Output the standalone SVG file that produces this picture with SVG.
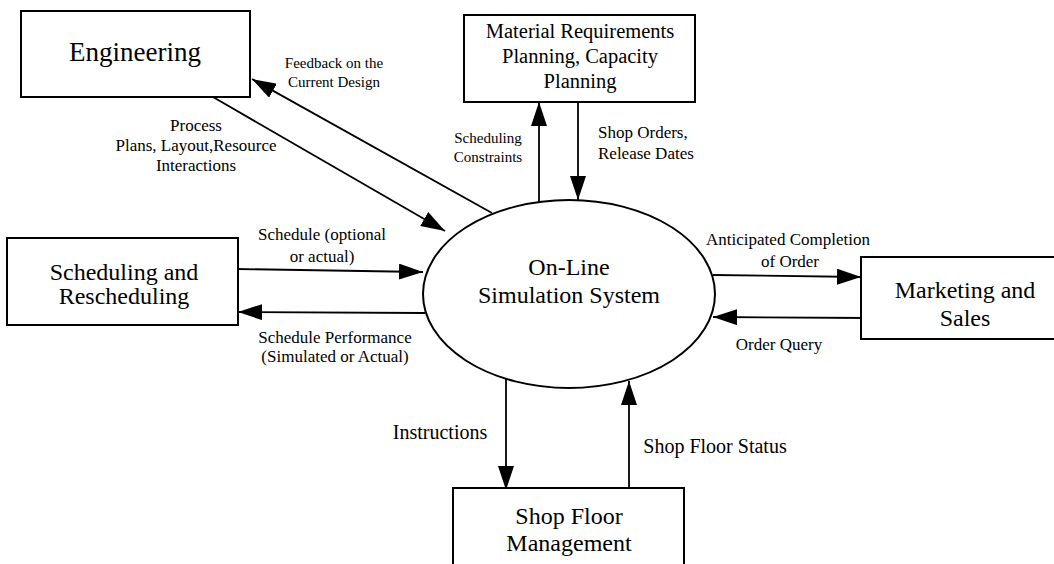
<svg xmlns="http://www.w3.org/2000/svg" width="1054" height="564" viewBox="0 0 1054 564">
<style>
.box{fill:#fff;stroke:#000;stroke-width:2}
.t{font-family:"Liberation Serif","Times New Roman",serif;fill:#000;text-anchor:middle}
.big{font-size:24px}
.mid{font-size:20px}
.sm{font-size:17px}
.xs{font-size:15px}
.c{stroke:#000;stroke-width:1.8;fill:none;marker-end:url(#ah)}
</style>
<defs>
<marker id="ah" markerUnits="userSpaceOnUse" markerWidth="24" markerHeight="16" refX="24" refY="8" orient="auto">
<path d="M0,0 L24,8 L0,16 z" fill="#000"/>
</marker>
</defs>
<rect width="1054" height="564" fill="#fff"/>
<g id="connectors">
<line class="c" x1="213" y1="97" x2="445" y2="231"/>
<line class="c" x1="492" y1="213" x2="252" y2="79"/>
<line class="c" x1="539" y1="203" x2="539" y2="102"/>
<line class="c" x1="578" y1="102" x2="578" y2="200"/>
<line class="c" x1="237" y1="269" x2="423" y2="272"/>
<line class="c" x1="425" y1="313" x2="238" y2="312"/>
<line class="c" x1="713" y1="275" x2="861" y2="277"/>
<line class="c" x1="868" y1="318" x2="713" y2="317"/>
<line class="c" x1="506" y1="379" x2="506" y2="490"/>
<line class="c" x1="629" y1="500" x2="629" y2="381"/>
</g>
<g id="labels">
<text class="t xs" x="334" y="68">Feedback on the</text>
<text class="t xs" x="334" y="87">Current Design</text>
<text class="t sm" x="196" y="131">Process</text>
<text class="t sm" x="196" y="151">Plans, Layout,Resource</text>
<text class="t sm" x="196" y="171">Interactions</text>
<text class="t xs" x="488" y="143">Scheduling</text>
<text class="t xs" x="488" y="162">Constraints</text>
<text class="t sm" x="598" y="138" text-anchor="start" style="text-anchor:start">Shop Orders,</text>
<text class="t sm" x="598" y="159" style="text-anchor:start">Release Dates</text>
<text class="t sm" x="322" y="240">Schedule (optional</text>
<text class="t sm" x="322" y="262">or actual)</text>
<text class="t sm" x="335" y="343">Schedule Performance</text>
<text class="t sm" x="335" y="362">(Simulated or Actual)</text>
<text class="t sm" x="788" y="245">Anticipated Completion</text>
<text class="t sm" x="790" y="267">of Order</text>
<text class="t sm" x="779" y="350">Order Query</text>
<text class="t mid" x="440" y="439">Instructions</text>
<text class="t mid" x="715" y="453">Shop Floor Status</text>
</g>
<g id="engineering">
<rect class="box" x="21" y="11" width="229" height="86"/>
<text class="t" style="font-size:27px" x="135" y="61">Engineering</text>
</g>
<g id="mrp">
<rect class="box" x="464" y="15" width="231" height="87"/>
<text class="t" style="font-size:20.5px" x="580" y="38">Material Requirements</text>
<text class="t" style="font-size:20.5px" x="580" y="63">Planning, Capacity</text>
<text class="t" style="font-size:20.5px" x="580" y="88">Planning</text>
</g>
<g id="scheduling">
<rect class="box" x="7" y="238" width="231" height="87"/>
<text class="t big" x="124" y="280">Scheduling and</text>
<text class="t big" x="124" y="304">Rescheduling</text>
</g>
<g id="simulation">
<ellipse cx="569" cy="294" rx="146" ry="94" fill="#fff" stroke="#000" stroke-width="2"/>
<text class="t big" x="569" y="275">On-Line</text>
<text class="t big" x="569" y="303">Simulation System</text>
</g>
<g id="marketing">
<rect class="box" x="861" y="257" width="220" height="82"/>
<text class="t big" x="965" y="298">Marketing and</text>
<text class="t big" x="965" y="326">Sales</text>
</g>
<g id="shopfloor">
<rect class="box" x="453" y="488" width="231" height="100"/>
<text class="t big" x="569" y="524">Shop Floor</text>
<text class="t big" x="569" y="551">Management</text>
</g>
</svg>
